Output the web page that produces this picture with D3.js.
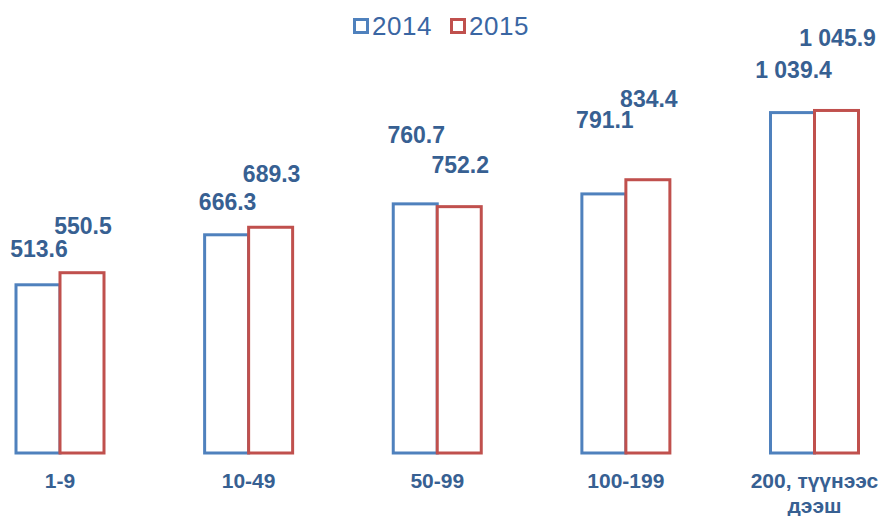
<!DOCTYPE html>
<html>
<head>
<meta charset="utf-8">
<script src="https://cdn.jsdelivr.net/npm/d3@7"></script>
<style>
    body { margin: 0; background: #fff; }
    svg { display: block; font-family: "Liberation Sans", Arial, sans-serif; }
</style>
</head>
<body>
<div id="chart"></div>
<script>
// Chart data
const categories = ["1-9", "10-49", "50-99", "100-199", "200, түүнээс дээш"];
const seriesNames = ["2014", "2015"];
const values2014 = [513.6, 666.3, 760.7, 791.1, 1039.4];
const values2015 = [550.5, 689.3, 752.2, 834.4, 1045.9];

// Hand placed label lift above each bar top (px), like in the original
const labelLift2014 = [26, 23, 59, 64, 33];
const labelLift2015 = [37, 44, 32, 71, 63];

const colors = { "2014": "#4F81BD", "2015": "#C0504D" };
const textColor = "#376092";

const width = 883, height = 516;
const svg = d3.select("#chart").append("svg")
    .attr("width", width)
    .attr("height", height);

// Scales
const x = d3.scalePoint().domain(categories).range([60, 814.5]);
const xs = d3.scaleBand().domain(seriesNames).range([-44, 44]).padding(0);
const y = d3.scaleLinear().domain([0, 1200]).range([453, 453 - 1200 * 0.3275]);

const numFmt = d3.formatLocale({ decimal: ".", thousands: " ", grouping: [3], currency: ["", ""] }).format(",.1f");

const rows = [];
categories.forEach((c, i) => {
    rows.push({ cat: c, s: "2014", v: values2014[i], lift: labelLift2014[i] });
    rows.push({ cat: c, s: "2015", v: values2015[i], lift: labelLift2015[i] });
});

// Bars (outlined, white fill)
svg.append("g").selectAll("rect")
    .data(rows)
    .enter().append("rect")
    .attr("x", d => x(d.cat) + xs(d.s))
    .attr("y", d => y(d.v))
    .attr("width", xs.bandwidth())
    .attr("height", d => y(0) - y(d.v))
    .attr("fill", "#fff")
    .attr("stroke", d => colors[d.s])
    .attr("stroke-width", 3);

// Value labels
svg.append("g").selectAll("text")
    .data(rows)
    .enter().append("text")
    .attr("x", d => x(d.cat) + xs(d.s) + xs.bandwidth() / 2 + 1)
    .attr("y", d => y(d.v) - 1.5 - d.lift)
    .attr("text-anchor", "middle")
    .attr("fill", textColor)
    .style("font-size", "23px")
    .style("font-weight", "bold")
    .text(d => numFmt(d.v));

// Category labels, wrapped
const catLabels = svg.append("g").selectAll("text")
    .data(categories)
    .enter().append("text")
    .attr("x", d => x(d))
    .attr("y", 488)
    .attr("text-anchor", "middle")
    .attr("fill", textColor)
    .style("font-size", "21px")
    .style("font-weight", "bold");

catLabels.each(function(d) {
    const t = d3.select(this);
    const words = d.split(" ");
    let line = [];
    let tspan = t.append("tspan").attr("x", x(d)).attr("dy", 0);
    words.forEach(w => {
        line.push(w);
        tspan.text(line.join(" "));
        if (tspan.node().getComputedTextLength() > 140 && line.length > 1) {
            line.pop();
            tspan.text(line.join(" "));
            line = [w];
            tspan = t.append("tspan").attr("x", x(d)).attr("dy", 25).text(w);
        }
    });
});

// Legend
const legend = svg.append("g").selectAll("g")
    .data(seriesNames)
    .enter().append("g")
    .attr("transform", (d, i) => `translate(${353 + i * 97},0)`);

legend.append("rect")
    .attr("x", 1.5)
    .attr("y", 19.5)
    .attr("width", 13)
    .attr("height", 13)
    .attr("fill", "#fff")
    .attr("stroke", d => colors[d])
    .attr("stroke-width", 3);

legend.append("text")
    .attr("x", 19)
    .attr("y", 35)
    .attr("fill", "#3A66A3")
    .style("font-size", "26px")
    .style("letter-spacing", "0.5px")
    .text(d => d);
</script>
</body>
</html>
